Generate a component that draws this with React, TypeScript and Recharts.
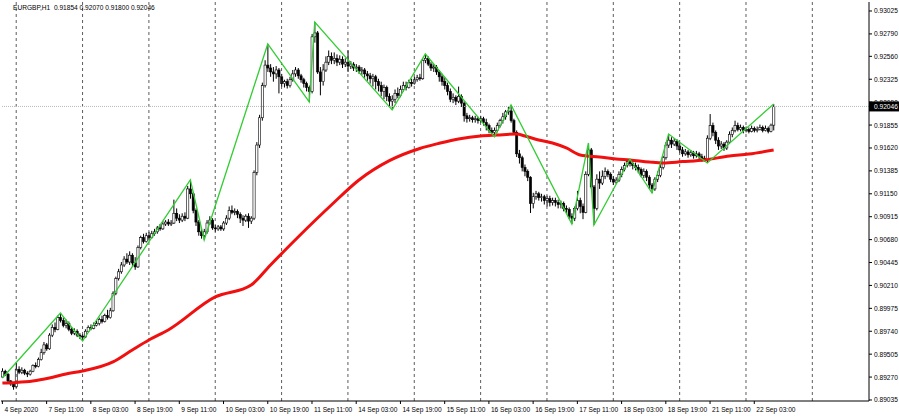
import React from 'react';
import { ComposedChart, Bar, Line, XAxis, YAxis, ReferenceLine } from 'recharts';

// ---- data (prices in 1e-5 units) ----
const SYMBOL = 'EURGBP,H1';
const LAST_OHLC = [0.91854, 0.9207, 0.918, 0.92046];

const openPts = [
  89270,89330,89300,89230,89200,89170,89350,89320,89340,89310,
  89300,89330,89390,89380,89450,89520,89600,89560,89700,89780,
  89760,89880,89850,89800,89820,89760,89720,89740,89700,89690,
  89680,89740,89780,89770,89800,89820,89860,89840,89900,89880,
  89950,90130,90280,90350,90420,90480,90450,90520,90440,90400,
  90600,90700,90660,90720,90700,90740,90760,90800,90790,90840,
  90860,90840,90850,90950,90900,90880,90920,90900,91200,91150,
  90980,90860,90760,90720,90760,90850,90880,90800,90790,90810,
  90790,90850,90900,90980,90960,90970,90940,90900,90880,90920,
  90870,90900,91370,91650,91930,92260,92470,92440,92400,92380,
  92420,92350,92280,92300,92260,92320,92380,92420,92360,92320,
  92280,92240,92200,92760,92800,92400,92300,92420,92500,92560,
  92520,92540,92500,92530,92480,92500,92460,92480,92440,92450,
  92410,92420,92380,92360,92330,92350,92300,92260,92200,92240,
  92150,92100,92120,92180,92160,92220,92260,92240,92290,92280,
  92320,92340,92330,92520,92540,92480,92440,92450,92400,92350,
  92300,92260,92200,92120,92140,92100,92150,92080,91950,91920,
  91930,91910,91920,91900,91920,91880,91850,91800,91780,91800,
  91850,91900,91940,91990,92000,91900,91780,91560,91520,91420,
  91380,91320,91050,91120,91150,91110,91120,91080,91100,91060,
  91080,91060,91040,91050,91000,90990,90920,90900,91000,91080,
  91020,90960,91350,91600,91220,91000,91300,91260,91330,91380,
  91350,91300,91270,91290,91350,91400,91440,91480,91460,91440,
  91420,91400,91340,91380,91320,91240,91200,91300,91340,91420,
  91520,91650,91700,91660,91690,91640,91600,91560,91580,91550,
  91570,91540,91560,91530,91510,91500,91720,91850,91780,91700,
  91640,91660,91620,91680,91760,91800,91850,91810,91830,91800,
  91810,91790,91820,91800,91810,91830,91800,91820,91790,91854,
];

const highPts = [
  89360,89345,89310,89240,89215,89415,89380,89370,89355,89330,
  89345,89400,89420,89470,89560,89630,89620,89720,89810,89830,
  89900,89927,89880,89860,89840,89780,89770,89760,89720,89710,
  89760,89800,89810,89830,89850,89880,89900,89920,89960,89980,
  90150,90300,90380,90450,90510,90540,90560,90540,90500,90620,
  90720,90740,90750,90760,90770,90790,90820,90840,90870,90880,
  90890,90880,91090,91000,90940,90950,90960,91230,91292,91170,
  91000,90880,90800,90790,90880,90920,90900,90830,90830,90830,
  90870,90930,91020,91030,91000,90990,90960,90930,90940,90950,
  90920,91390,91680,91960,92290,92520,92687,92480,92450,92460,
  92440,92380,92320,92330,92350,92420,92450,92440,92380,92340,
  92300,92260,92790,92912,92820,92450,92480,92560,92620,92600,
  92600,92580,92570,92560,92540,92620,92510,92500,92480,92470,
  92450,92440,92410,92390,92380,92370,92330,92300,92270,92260,
  92180,92160,92220,92240,92260,92300,92300,92320,92330,92350,
  92370,92380,92540,92584,92560,92500,92480,92470,92420,92380,
  92340,92290,92230,92180,92160,92250,92170,92100,91980,91960,
  91950,91950,91940,91950,91940,91920,91870,91830,91830,91880,
  91920,91980,92010,92040,92061,91920,91800,91600,91540,91450,
  91400,91330,91160,91180,91170,91150,91140,91130,91130,91110,
  91110,91090,91080,91070,91030,91010,90950,91020,91180,91110,
  91050,91380,91671,91620,91240,91350,91380,91390,91420,91400,
  91370,91330,91320,91380,91430,91470,91500,91507,91490,91470,
  91450,91420,91410,91400,91340,91260,91320,91380,91460,91540,
  91680,91763,91730,91720,91710,91670,91630,91610,91600,91600,
  91590,91590,91580,91560,91540,91750,91968,91880,91800,91730,
  91690,91680,91700,91790,91830,91900,91880,91860,91850,91840,
  91830,91850,91840,91840,91860,91850,91850,91840,91870,92070,
];

const lowPts = [
  89260,89280,89210,89180,89140,89160,89300,89300,89290,89270,
  89285,89320,89360,89370,89440,89500,89540,89550,89680,89730,
  89750,89830,89780,89770,89740,89700,89700,89680,89660,89640,
  89670,89730,89750,89760,89790,89800,89820,89830,89860,89870,
  89940,90110,90260,90330,90400,90430,90420,90400,90370,90390,
  90580,90640,90650,90670,90690,90720,90740,90770,90780,90820,
  90820,90820,90840,90870,90850,90860,90870,90890,91100,90950,
  90820,90720,90690,90676,90740,90830,90780,90760,90770,90770,
  90770,90830,90880,90940,90930,90900,90850,90820,90860,90800,
  90840,90880,91340,91620,91900,92240,92400,92350,92300,92330,
  92180,92250,92240,92230,92240,92300,92350,92330,92290,92240,
  92200,92092,92180,92700,92380,92160,92260,92400,92470,92480,
  92480,92460,92470,92440,92450,92400,92430,92410,92400,92380,
  92370,92340,92310,92280,92250,92220,92200,92150,92120,92100,
  92050,92010,92080,92130,92140,92200,92210,92230,92250,92270,
  92300,92310,92320,92490,92460,92410,92400,92370,92300,92260,
  92220,92160,92090,92080,92060,92080,92040,91890,91880,91890,
  91880,91880,91870,91880,91850,91800,91770,91750,91733,91780,
  91830,91870,91910,91960,91880,91760,91527,91460,91380,91330,
  91280,90953,91000,91090,91080,91070,91040,91020,91020,91030,
  91020,91000,91000,90970,90950,90890,90840,90870,90980,90950,
  90890,90950,91330,91200,90830,90980,91200,91240,91300,91320,
  91270,91240,91250,91270,91320,91380,91420,91430,91400,91390,
  91360,91320,91310,91280,91200,91158,91180,91270,91320,91400,
  91500,91620,91620,91640,91600,91570,91530,91540,91520,91530,
  91510,91520,91500,91480,91480,91466,91700,91740,91660,91600,
  91610,91590,91600,91660,91730,91780,91790,91790,91770,91780,
  91770,91780,91780,91780,91800,91780,91790,91770,91780,91800,
];

const closePts = [
  89330,89300,89230,89200,89170,89350,89320,89340,89310,89300,
  89330,89390,89380,89450,89520,89600,89560,89700,89780,89760,
  89880,89850,89800,89820,89760,89720,89740,89700,89690,89680,
  89740,89780,89770,89800,89820,89860,89840,89900,89880,89950,
  90130,90280,90350,90420,90480,90450,90520,90440,90400,90600,
  90700,90660,90720,90700,90740,90760,90800,90790,90840,90860,
  90840,90850,90950,90900,90880,90920,90900,91200,91150,90980,
  90860,90760,90720,90760,90850,90880,90800,90790,90810,90790,
  90850,90900,90980,90960,90970,90940,90900,90880,90920,90870,
  90900,91370,91650,91930,92260,92470,92440,92400,92380,92420,
  92350,92280,92300,92260,92320,92380,92420,92360,92320,92280,
  92240,92200,92760,92800,92400,92300,92420,92500,92560,92520,
  92540,92500,92530,92480,92500,92460,92480,92440,92450,92410,
  92420,92380,92360,92330,92350,92300,92260,92200,92240,92150,
  92100,92120,92180,92160,92220,92260,92240,92290,92280,92320,
  92340,92330,92520,92540,92480,92440,92450,92400,92350,92300,
  92260,92200,92120,92140,92100,92150,92080,91950,91920,91930,
  91910,91920,91900,91920,91880,91850,91800,91780,91800,91850,
  91900,91940,91990,92000,91900,91780,91560,91520,91420,91380,
  91320,91050,91120,91150,91110,91120,91080,91100,91060,91080,
  91060,91040,91050,91000,90990,90920,90900,91000,91080,91020,
  90960,91350,91600,91220,91000,91300,91260,91330,91380,91350,
  91300,91270,91290,91350,91400,91440,91480,91460,91440,91420,
  91400,91340,91380,91320,91240,91200,91300,91340,91420,91520,
  91650,91700,91660,91690,91640,91600,91560,91580,91550,91570,
  91540,91560,91530,91510,91500,91720,91850,91780,91700,91640,
  91660,91620,91680,91760,91800,91850,91810,91830,91800,91810,
  91790,91820,91800,91810,91830,91800,91820,91790,91854,92046,
];

// ZigZag pivots (bar index, price)
const zzIdx = [0, 21, 29, 68, 73, 96, 111, 113, 141, 153, 178, 184, 206, 212, 214, 227, 235, 241, 255, 279];
const zzVal = [89260, 89927, 89640, 91292, 90676, 92687, 92092, 92912, 92010, 92584, 91733, 92061, 90840, 91671, 90830, 91507, 91158, 91763, 91466, 92070];

// Moving average readings (bar index, price)
const maIdx = [0, 5, 11, 17, 23, 29, 40, 47, 53, 60, 77, 90, 97, 107, 119, 129, 140, 151, 158, 165, 173, 179, 186, 189, 194, 199, 204, 209, 216, 222, 227, 234, 239, 246, 254, 263, 270, 279];
const maVal = [89209, 89215, 89230, 89261, 89302, 89332, 89425, 89548, 89650, 89753, 90092, 90215, 90420, 90707, 91035, 91292, 91490, 91615, 91668, 91712, 91743, 91753, 91763, 91743, 91702, 91671, 91620, 91548, 91527, 91507, 91497, 91476, 91466, 91480, 91497, 91538, 91558, 91599];

// time axis labels (every 16 bars) and day separators
const labelIdx = [0, 16, 32, 48, 64, 80, 96, 112, 128, 144, 160, 176, 192, 208, 224, 240, 256, 272];
const tickLabels = ['4 Sep 2020', '7 Sep 11:00', '8 Sep 03:00', '8 Sep 19:00', '9 Sep 11:00', '10 Sep 03:00', '10 Sep 19:00', '11 Sep 11:00', '14 Sep 03:00', '14 Sep 19:00', '15 Sep 11:00', '16 Sep 03:00', '16 Sep 19:00', '17 Sep 11:00', '18 Sep 03:00', '18 Sep 19:00', '21 Sep 11:00', '22 Sep 03:00'];
const dayIdx = [5, 29, 53, 77, 101, 125, 149, 173, 197, 221, 245, 269, 293];
const yTicks = [0.93025, 0.9279, 0.9256, 0.92325, 0.9209, 0.91855, 0.9162, 0.91385, 0.9115, 0.90915, 0.9068, 0.90445, 0.9021, 0.89975, 0.8974, 0.89505, 0.8927, 0.89035];
const Y_DOMAIN: [number, number] = [0.890246, 0.931173];
const SLOTS = 314; // bars + empty chart shift on the right

const data: any[] = Array.from({ length: SLOTS }, (_, i) => ({ i }));
openPts.forEach((_, k) => {
  const o = openPts[k] / 1e5, h = highPts[k] / 1e5, l = lowPts[k] / 1e5, c = closePts[k] / 1e5;
  Object.assign(data[k], { o, h, l, c, hl: [l, h] });
});
zzIdx.forEach((k, j) => { data[k].zz = zzVal[j] / 1e5; });
maIdx.forEach((k, j) => { data[k].ma = maVal[j] / 1e5; });

const FONT = '"Liberation Sans", Arial, sans-serif';
const FS = 6.6;

const Candle = (props: any) => {
  const { x, y, width, height, payload } = props;
  if (!payload || payload.o == null) return null;
  const { o, h, l, c } = payload;
  const top = Math.min(y, y + height);
  const bot = Math.max(y, y + height);
  const span = h - l;
  const py = (v: number) => (span > 0 ? top + ((h - v) / span) * (bot - top) : top);
  const cx = x + width / 2;
  const yo = py(o), yc = py(c);
  const bTop = Math.min(yo, yc);
  const bH = Math.max(Math.abs(yc - yo), 0.8);
  const bull = c >= o;
  return (
    <g>
      <line x1={cx} x2={cx} y1={top} y2={bot} stroke="#000" strokeWidth={1} />
      <rect x={cx - 1.1} y={bTop} width={2.2} height={bH} fill={bull ? '#fff' : '#000'} stroke="#000" strokeWidth={0.6} />
    </g>
  );
};

const XTick = (props: any) => {
  const { x, y, payload } = props;
  const k = labelIdx.indexOf(payload.value);
  if (k < 0) return null;
  return (
    <text x={x + 2} y={y + 8} fontSize={FS} fontFamily={FONT} fill="#000" textAnchor="start">
      {tickLabels[k]}
    </text>
  );
};

const YTick = (props: any) => {
  const { x, y, payload } = props;
  const v = payload.value as number;
  if (v === LAST_OHLC[3]) {
    return (
      <g>
        <rect x={x - 5} y={y - 5} width={31} height={10} fill="#000" />
        <text x={x} y={y + 2.5} fontSize={FS} fontFamily={FONT} fill="#fff" textAnchor="start">
          {v.toFixed(5)}
        </text>
      </g>
    );
  }
  return (
    <text x={x} y={y + 2.5} fontSize={FS} fontFamily={FONT} fill="#000" textAnchor="start">
      {v.toFixed(5)}
    </text>
  );
};

export default function App() {
  return (
    <div style={{ position: 'absolute', left: 0, top: 0, width: 899, height: 416, background: '#fff' }}>
      <ComposedChart
        width={899}
        height={416}
        data={data}
        margin={{ top: 2, right: 0, left: 1, bottom: 0 }}
        barCategoryGap={0}
      >
        <XAxis
          dataKey="i"
          type="category"
          ticks={labelIdx}
          interval={0}
          height={15}
          tick={<XTick />}
          tickSize={3}
          tickMargin={0}
          axisLine={{ stroke: '#000' }}
          tickLine={{ stroke: '#000' }}
        />
        <XAxis xAxisId="top" dataKey="i" orientation="top" height={0} tick={false} tickLine={false} axisLine={{ stroke: '#000' }} />
        <YAxis
          orientation="right"
          type="number"
          domain={Y_DOMAIN}
          allowDataOverflow
          ticks={[...yTicks, LAST_OHLC[3]]}
          interval={0}
          width={30}
          tick={<YTick />}
          tickSize={3}
          tickMargin={2}
          axisLine={{ stroke: '#000' }}
          tickLine={{ stroke: '#000' }}
        />
        <YAxis yAxisId="left" orientation="left" type="number" domain={Y_DOMAIN} width={0} tick={false} tickLine={false} axisLine={{ stroke: '#000' }} />
        {dayIdx.map((d) => (
          <ReferenceLine key={d} x={d} stroke="#333" strokeDasharray="3 3" strokeWidth={0.8} />
        ))}
        <ReferenceLine y={LAST_OHLC[3]} stroke="#b8b8b8" strokeDasharray="1 1" />
        <Bar dataKey="hl" shape={<Candle />} isAnimationActive={false} />
        <Line dataKey="ma" type="monotone" stroke="#f01010" strokeWidth={3} dot={false} connectNulls isAnimationActive={false} />
        <Line dataKey="zz" type="linear" stroke="#32cd32" strokeWidth={1.3} dot={false} connectNulls isAnimationActive={false} />
      </ComposedChart>
      <div style={{ position: 'absolute', left: 13, top: 4, fontSize: FS, fontFamily: FONT, color: '#000', whiteSpace: 'pre', lineHeight: '8px' }}>
        {`${SYMBOL}  ${LAST_OHLC.map((v) => v.toFixed(5)).join(' ')}`}
      </div>
    </div>
  );
}
